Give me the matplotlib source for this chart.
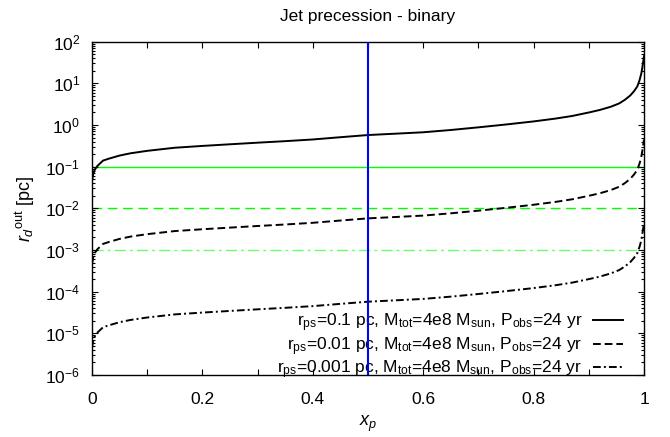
import numpy as np
import matplotlib
matplotlib.use("Agg")
import matplotlib.pyplot as plt
from matplotlib.ticker import LogLocator, MultipleLocator, NullFormatter

plt.rcParams['font.family'] = ['Liberation Sans', 'DejaVu Sans']
plt.rcParams['mathtext.fontset'] = 'custom'
plt.rcParams['mathtext.rm'] = 'Liberation Sans'
plt.rcParams['mathtext.it'] = 'Liberation Sans:italic'
plt.rcParams['mathtext.default'] = 'regular'

# outer disc radius vs. x_p for three precession radii
xp = [0, 0.002, 0.005, 0.01, 0.02, 0.03, 0.05, 0.07, 0.1, 0.15, 0.2, 0.25, 0.3,
      0.35, 0.4, 0.45, 0.5, 0.55, 0.6, 0.65, 0.7, 0.75, 0.8, 0.84, 0.87, 0.9,
      0.92, 0.94, 0.955, 0.965, 0.975, 0.982, 0.988, 0.992, 0.995, 0.997, 0.9985, 1.0]
rd_01 = [0.045, 0.065, 0.085, 0.105, 0.14, 0.155, 0.185, 0.21, 0.24, 0.285, 0.315, 0.345, 0.377,
         0.41, 0.45, 0.51, 0.575, 0.62, 0.67, 0.76, 0.88, 1.03, 1.22, 1.43, 1.65, 2.0,
         2.3, 2.75, 3.3, 4.0, 5.1, 6.5, 8.5, 12, 17, 24, 33, 45]
rd_001 = [4.5e-4, 6.5e-4, 8.5e-4, 1.05e-3, 1.4e-3, 1.55e-3, 1.85e-3, 2.1e-3, 2.4e-3, 2.85e-3, 3.15e-3, 3.45e-3, 3.77e-3,
          4.1e-3, 4.5e-3, 5.1e-3, 5.75e-3, 6.2e-3, 6.7e-3, 7.6e-3, 8.8e-3, 1.03e-2, 1.22e-2, 1.43e-2, 1.65e-2, 2.0e-2,
          2.3e-2, 2.75e-2, 3.3e-2, 4.0e-2, 5.1e-2, 6.5e-2, 8.5e-2, 0.12, 0.17, 0.24, 0.33, 0.45]
rd_0001 = [4.5e-6, 6.5e-6, 8.5e-6, 1.05e-5, 1.4e-5, 1.55e-5, 1.85e-5, 2.1e-5, 2.4e-5, 2.85e-5, 3.15e-5, 3.45e-5, 3.77e-5,
           4.1e-5, 4.5e-5, 5.1e-5, 5.75e-5, 6.2e-5, 6.7e-5, 7.6e-5, 8.8e-5, 1.03e-4, 1.22e-4, 1.43e-4, 1.65e-4, 2.0e-4,
           2.3e-4, 2.75e-4, 3.3e-4, 4.0e-4, 5.1e-4, 6.5e-4, 8.5e-4, 1.2e-3, 1.7e-3, 2.4e-3, 3.3e-3, 4.5e-3]

labels = [r'r$_{ps}$=0.1 pc, M$_{tot}$=4e8 M$_{sun}$, P$_{obs}$=24 yr',
          r'r$_{ps}$=0.01 pc, M$_{tot}$=4e8 M$_{sun}$, P$_{obs}$=24 yr',
          r'r$_{ps}$=0.001 pc, M$_{tot}$=4e8 M$_{sun}$, P$_{obs}$=24 yr']

hlines = [0.1, 0.01, 0.001]
xp_mark = 0.5

fig = plt.figure(figsize=(6.7, 4.37), dpi=100)
ax = fig.add_axes([92/670, 62/437, 552/670, 333.3/437])

# reference levels
ax.axhline(hlines[0], color='#00ff00', lw=1.0, zorder=1)
ax.axhline(hlines[1], color='#00ff00', lw=1.0, dashes=(7, 4), zorder=1)
ax.axhline(hlines[2], color='#66ff66', lw=1.0, dashes=(8, 3, 2, 3), zorder=1)

ax.plot(xp, rd_01, color='black', lw=1.4, label=labels[0], zorder=3)
ax.plot(xp, rd_001, color='black', lw=1.4, dashes=(4, 2), label=labels[1], zorder=3)
ax.plot(xp, rd_0001, color='black', lw=1.4, dashes=(4, 1.6, 1, 1.6), label=labels[2], zorder=3)

ax.axvline(xp_mark, color='#0000ff', lw=1.5, zorder=7)

ax.set_yscale('log')
ax.set_xlim(0, 1)
ax.set_ylim(1e-6, 1e2)

ax.xaxis.set_major_locator(MultipleLocator(0.2))
ax.xaxis.set_minor_locator(MultipleLocator(0.1))
ax.xaxis.set_major_formatter(plt.FuncFormatter(lambda v, p: '%g' % v))
ax.yaxis.set_major_locator(LogLocator(base=10, numticks=20))
ax.yaxis.set_minor_locator(LogLocator(base=10, subs=np.arange(2, 10), numticks=20))
ax.yaxis.set_minor_formatter(NullFormatter())

ax.tick_params(which='both', direction='in', top=True, right=True, labelsize=12.5, width=0.8)
ax.tick_params(which='major', length=4.5)
ax.tick_params(which='minor', length=2.5)
ax.tick_params(axis='x', which='minor', length=4.5)
ax.tick_params(axis='x', which='major', pad=12)
ax.tick_params(axis='y', which='major', pad=8.5)
for s in ax.spines.values():
    s.set_linewidth(1.0)

ax.set_title('Jet precession - binary', fontsize=12.5, pad=15)
ax.set_xlabel('$\\mathit{x_p}$', fontsize=13, labelpad=5)
ax.set_ylabel('$\\mathit{r_d}^{out}$ [pc]', fontsize=13)
ax.yaxis.set_label_coords(-0.1, 0.5)

leg = ax.legend(loc='lower right', bbox_to_anchor=(623/670, 56/437), bbox_transform=fig.transFigure,
                frameon=False, markerfirst=False, fontsize=12.5, handlelength=1.75,
                handletextpad=0.6, labelspacing=0.05, borderpad=0, borderaxespad=0)
leg.set_zorder(5)

fig.savefig('out.png', dpi=100)
